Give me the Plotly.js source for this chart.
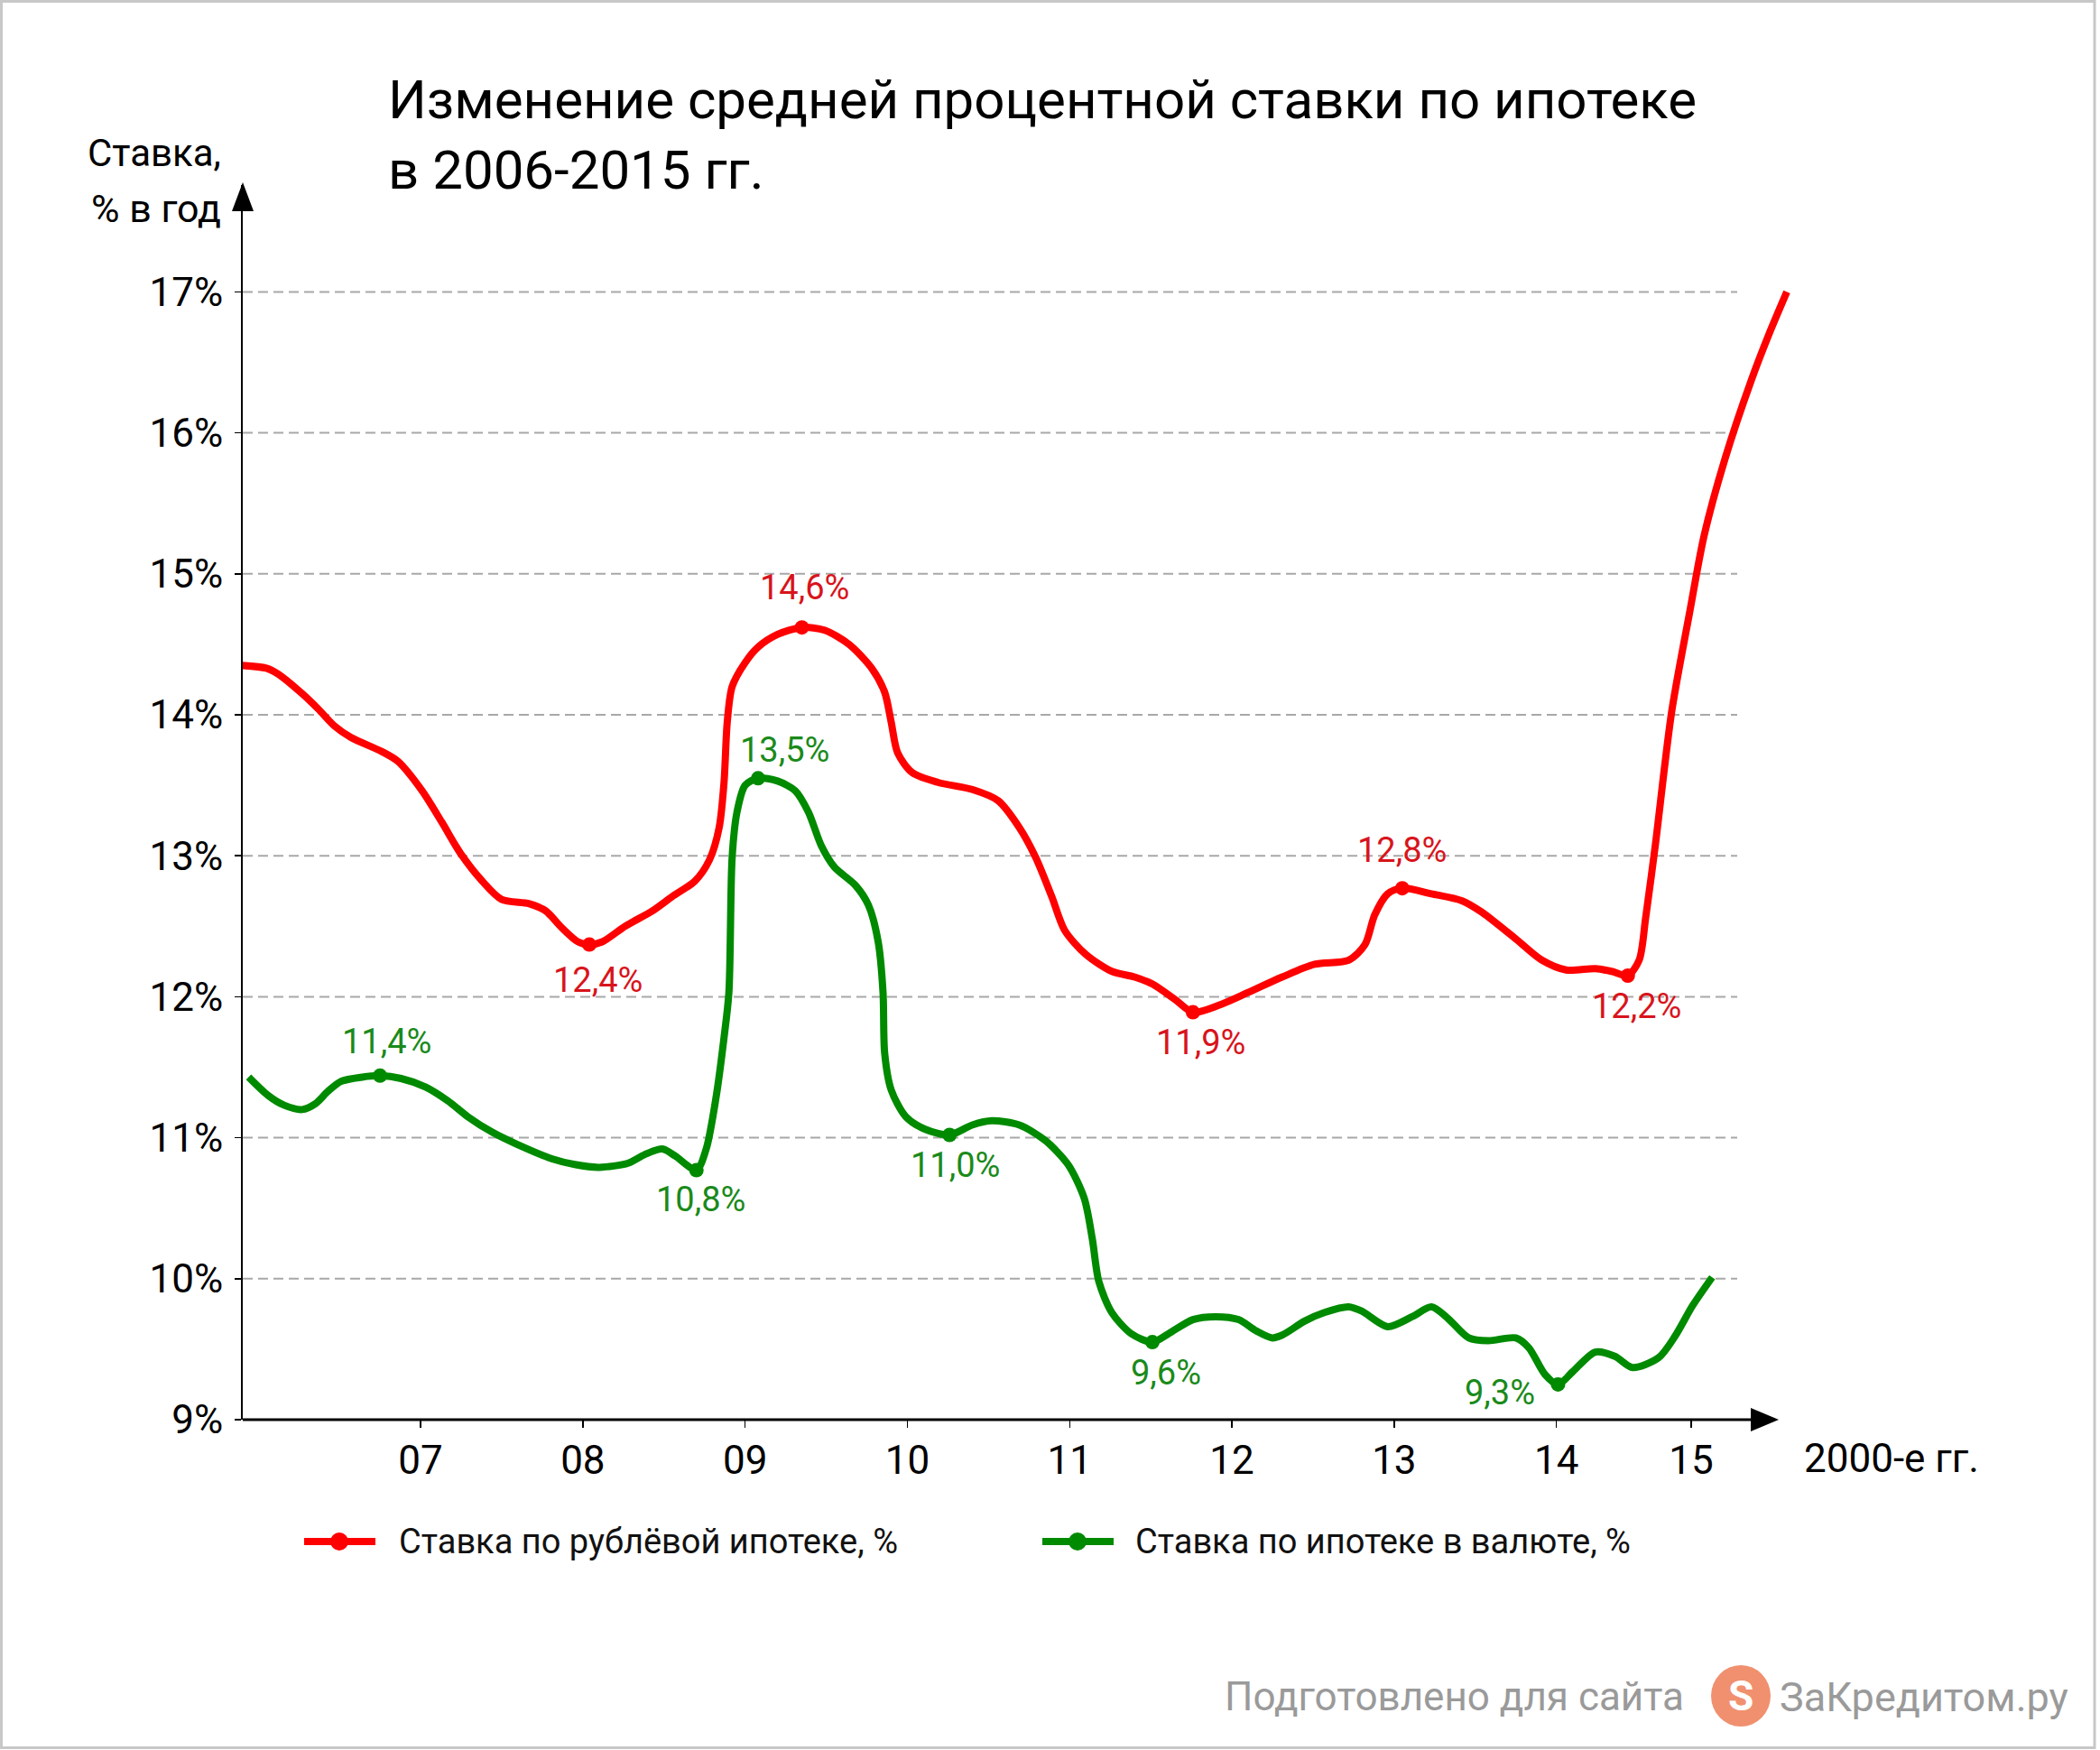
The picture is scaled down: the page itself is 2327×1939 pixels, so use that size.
<!DOCTYPE html>
<html>
<head>
<meta charset="utf-8">
<script src="https://cdn.plot.ly/plotly-3.0.1.min.js"></script>
<style>
html,body{margin:0;padding:0;background:#fff;}
#chart{width:2327px;height:1939px;}
</style>
</head>
<body>
<div id="chart"></div>
<script>
// ---------------- DATA ----------------
const titleText = 'Изменение средней процентной ставки по ипотеке<br>в 2006-2015 гг.';
const yAxisTitle1 = 'Ставка,';
const yAxisTitle2 = '% в год';
const xAxisTitle = '2000-е гг.';

const xTickPos = [2007, 2008, 2009, 2010, 2011, 2012, 2013, 2014, 2014.83];
const xTickLabels = ['07', '08', '09', '10', '11', '12', '13', '14', '15'];
const yTickVals = [9, 10, 11, 12, 13, 14, 15, 16, 17];
const yTickLabels = ['9%', '10%', '11%', '12%', '13%', '14%', '15%', '16%', '17%'];

const redName = 'Ставка по рублёвой ипотеке, %';
const redX = [2005.90, 2006.05, 2006.12, 2006.27, 2006.37, 2006.47, 2006.57, 2006.76, 2006.86,
  2007.01, 2007.13, 2007.25, 2007.38, 2007.50, 2007.67, 2007.77, 2007.87, 2007.97,
  2008.04, 2008.12, 2008.26, 2008.43, 2008.55, 2008.69, 2008.78, 2008.84, 2008.87, 2008.89, 2008.92,
  2009.00, 2009.08, 2009.20, 2009.35, 2009.49, 2009.64, 2009.78, 2009.86, 2009.90, 2009.94,
  2010.03, 2010.19, 2010.40, 2010.56, 2010.69, 2010.79, 2010.89, 2010.97,
  2011.10, 2011.26, 2011.40, 2011.51, 2011.65, 2011.76, 2011.92,
  2012.10, 2012.31, 2012.51, 2012.72, 2012.82, 2012.88, 2012.96,
  2013.05, 2013.23, 2013.42, 2013.54, 2013.75, 2013.91,
  2014.06, 2014.24, 2014.34, 2014.44, 2014.51, 2014.55, 2014.61, 2014.71, 2014.82, 2014.91,
  2015.04, 2015.20, 2015.31, 2015.42];
const redY = [14.35, 14.33, 14.29, 14.15, 14.04, 13.92, 13.84, 13.74, 13.67,
  13.46, 13.24, 13.01, 12.82, 12.69, 12.66, 12.61, 12.49, 12.39,
  12.37, 12.39, 12.50, 12.61, 12.71, 12.82, 12.97, 13.20, 13.52, 13.95, 14.20,
  14.37, 14.48, 14.57, 14.62, 14.60, 14.50, 14.33, 14.16, 13.95, 13.73,
  13.59, 13.52, 13.47, 13.39, 13.20, 12.99, 12.71, 12.47,
  12.30, 12.18, 12.14, 12.09, 11.98, 11.89, 11.94,
  12.03, 12.14, 12.23, 12.26, 12.37, 12.58, 12.73,
  12.77, 12.73, 12.68, 12.60, 12.41, 12.26,
  12.19, 12.20, 12.18, 12.15, 12.26, 12.56, 13.08, 14.02, 14.72, 15.27,
  15.82, 16.37, 16.70, 17.00];
const redLabelX = [2008.04, 2009.35, 2011.76, 2013.05, 2014.44];
const redLabelText = ['12,4%', '14,6%', '11,9%', '12,8%', '12,2%'];

const greenName = 'Ставка по ипотеке в валюте, %';
const greenX = [2005.94, 2006.06, 2006.16, 2006.27, 2006.35, 2006.43, 2006.51, 2006.64, 2006.75, 2006.88,
  2007.03, 2007.17, 2007.29, 2007.44, 2007.60, 2007.81, 2007.95,
  2008.10, 2008.28, 2008.38, 2008.49, 2008.57, 2008.70, 2008.76, 2008.82, 2008.87, 2008.90, 2008.92, 2008.95,
  2009.00, 2009.08, 2009.20, 2009.31, 2009.39, 2009.47, 2009.55, 2009.68, 2009.76, 2009.82, 2009.85, 2009.86, 2009.90, 2009.99,
  2010.11, 2010.26, 2010.40, 2010.52, 2010.69, 2010.85, 2010.99,
  2011.09, 2011.14, 2011.18, 2011.26, 2011.38, 2011.51, 2011.61, 2011.76, 2011.90,
  2012.04, 2012.15, 2012.25, 2012.31, 2012.45, 2012.57, 2012.72, 2012.80, 2012.96,
  2013.11, 2013.23, 2013.33, 2013.46, 2013.58, 2013.75, 2013.83, 2013.93,
  2014.01, 2014.10, 2014.24, 2014.36, 2014.47, 2014.63, 2014.73, 2014.84, 2014.96];
const greenY = [11.43, 11.30, 11.23, 11.20, 11.24, 11.33, 11.40, 11.43, 11.44, 11.42,
  11.36, 11.26, 11.15, 11.04, 10.95, 10.85, 10.81,
  10.79, 10.82, 10.88, 10.92, 10.87, 10.77, 10.92, 11.28, 11.71, 12.03, 12.99, 13.31,
  13.50, 13.55, 13.53, 13.46, 13.31, 13.07, 12.92, 12.79, 12.65, 12.39, 12.03, 11.60, 11.34, 11.15,
  11.06, 11.02, 11.09, 11.12, 11.09, 10.98, 10.81,
  10.57, 10.28, 9.98, 9.76, 9.61, 9.55, 9.61, 9.71, 9.73,
  9.71, 9.63, 9.58, 9.60, 9.70, 9.76, 9.80, 9.77, 9.66,
  9.73, 9.80, 9.72, 9.58, 9.56, 9.58, 9.51, 9.32,
  9.25, 9.34, 9.48, 9.45, 9.37, 9.44, 9.59, 9.81, 10.01];
const greenLabelX = [2006.75, 2008.70, 2009.08, 2010.26, 2011.51, 2014.01];
const greenLabelText = ['11,4%', '10,8%', '13,5%', '11,0%', '9,6%', '9,3%'];

const footerText = 'Подготовлено для сайта';
const brandText = 'ЗаКредитом.ру';

// ---------------- LAYOUT / STYLE ----------------
const W = 2327, H = 1939;
const ML = 269, MR = 332, MT = 205, MB = 366;
const PW = W - ML - MR, PH = H - MT - MB;
const PX_PER_YEAR = 179.8, PX_PER_PCT = 156.2;
const xStart = 2005.904;
const xRange = [xStart, xStart + PW / PX_PER_YEAR];
const yRange = [9, 9 + PH / PX_PER_PCT];
const P = x => (x - ML) / PW;            // pixel -> paper x
const Q = y => (H - MB - y) / PH;         // pixel -> paper y

const FONT = 'Roboto, "Noto Sans", "DejaVu Sans", sans-serif';
const RED = '#ff0000', RED_TXT = '#d8141c';
const GREEN = '#008a00', GREEN_TXT = '#1a8a1a';

const yOf = (xs, ys, x) => ys[xs.indexOf(x)];

const traces = [
  {x: redX, y: redY, type: 'scatter', mode: 'lines', name: redName,
   line: {color: RED, width: 8, shape: 'spline', smoothing: 0.8}},
  {x: greenX, y: greenY, type: 'scatter', mode: 'lines', name: greenName,
   line: {color: GREEN, width: 8, shape: 'spline', smoothing: 0.8}},
  {x: redLabelX, y: redLabelX.map(x => yOf(redX, redY, x)), type: 'scatter', mode: 'markers',
   marker: {color: RED, size: 16}, cliponaxis: false},
  {x: greenLabelX, y: greenLabelX.map(x => yOf(greenX, greenY, x)), type: 'scatter', mode: 'markers',
   marker: {color: GREEN, size: 16}, cliponaxis: false}
];

const redShift = [[9, -39], [3, 44], [9, -33], [0, 42], [10, -34]];
const greenShift = [[7, 38], [5, -32], [29, 31], [6, -34], [15, -34], [-64, -9]];

const annotations = [];
redLabelX.forEach((x, i) => annotations.push({
  x: x, y: yOf(redX, redY, x), xref: 'x', yref: 'y', text: redLabelText[i], showarrow: false,
  xanchor: 'center', yanchor: 'middle', xshift: redShift[i][0], yshift: redShift[i][1],
  font: {family: FONT, size: 38, color: RED_TXT}
}));
greenLabelX.forEach((x, i) => annotations.push({
  x: x, y: yOf(greenX, greenY, x), xref: 'x', yref: 'y', text: greenLabelText[i], showarrow: false,
  xanchor: 'center', yanchor: 'middle', xshift: greenShift[i][0], yshift: greenShift[i][1],
  font: {family: FONT, size: 38, color: GREEN_TXT}
}));
// axis titles
annotations.push({xref: 'paper', yref: 'paper', x: P(247), y: Q(170), xanchor: 'right', yanchor: 'middle',
  text: yAxisTitle1, showarrow: false, font: {family: FONT, size: 42, color: '#000'}});
annotations.push({xref: 'paper', yref: 'paper', x: P(247), y: Q(231), xanchor: 'right', yanchor: 'middle',
  text: yAxisTitle2, showarrow: false, font: {family: FONT, size: 43, color: '#000'}});
annotations.push({xref: 'paper', yref: 'paper', x: P(1997), y: Q(1616), xanchor: 'left', yanchor: 'middle',
  text: xAxisTitle, showarrow: false, font: {family: FONT, size: 44, color: '#000'}});
// legend texts
annotations.push({xref: 'paper', yref: 'paper', x: P(440), y: Q(1708), xanchor: 'left', yanchor: 'middle',
  text: redName, showarrow: false, font: {family: FONT, size: 38, color: '#111'}});
annotations.push({xref: 'paper', yref: 'paper', x: P(1256), y: Q(1708), xanchor: 'left', yanchor: 'middle',
  text: greenName, showarrow: false, font: {family: FONT, size: 38, color: '#111'}});
// footer
annotations.push({xref: 'paper', yref: 'paper', x: P(1868), y: Q(1880), xanchor: 'right', yanchor: 'middle',
  text: footerText, showarrow: false, font: {family: FONT, size: 44, color: '#9a9a9a'}});
annotations.push({xref: 'paper', yref: 'paper', x: P(1970), y: Q(1880), xanchor: 'left', yanchor: 'middle',
  text: brandText, showarrow: false, font: {family: FONT, size: 45, color: '#9a9a9a'}});
annotations.push({xref: 'paper', yref: 'paper', x: P(1929), y: Q(1879), xanchor: 'center', yanchor: 'middle',
  text: '<b>S</b>', showarrow: false, font: {family: FONT, size: 46, color: '#ffffff'}});

const shapes = [];
// dashed gridlines
yTickVals.filter(v => v > 9).forEach(v => shapes.push({
  type: 'line', xref: 'paper', yref: 'y', x0: 0, x1: P(1925), y0: v, y1: v, layer: 'below',
  line: {color: '#a8a8a8', width: 2, dash: '11px,6px'}
}));
// x axis line + arrow
shapes.push({type: 'line', xref: 'paper', yref: 'paper', x0: 0, x1: P(1942), y0: 0, y1: 0,
  line: {color: '#000', width: 3}});
shapes.push({type: 'path', xref: 'paper', yref: 'paper', xsizemode: 'pixel', ysizemode: 'pixel',
  xanchor: P(1940), yanchor: 0, path: 'M0,-13 L0,13 L31,0 Z', fillcolor: '#000', line: {width: 0}});
// y axis arrow
shapes.push({type: 'path', xref: 'paper', yref: 'paper', xsizemode: 'pixel', ysizemode: 'pixel',
  xanchor: 0, yanchor: Q(234), path: 'M-12,0 L12,0 L0,32 Z', fillcolor: '#000', line: {width: 0}});
// legend symbols
[[337, 416, 376, RED], [1155, 1234, 1194, GREEN]].forEach(([a, b, c, col]) => {
  shapes.push({type: 'line', xref: 'paper', yref: 'paper', x0: P(a), x1: P(b), y0: Q(1708), y1: Q(1708),
    line: {color: col, width: 8}});
  shapes.push({type: 'circle', xref: 'paper', yref: 'paper', xsizemode: 'pixel', ysizemode: 'pixel',
    xanchor: P(c), yanchor: Q(1708), x0: -10, x1: 10, y0: -10, y1: 10, fillcolor: col, line: {width: 0}});
});
// logo circle
shapes.push({type: 'circle', xref: 'paper', yref: 'paper', xsizemode: 'pixel', ysizemode: 'pixel',
  xanchor: P(1929), yanchor: Q(1879), x0: -33, x1: 33, y0: -34, y1: 34, fillcolor: '#f0906f', line: {width: 0}});
// outer border
shapes.push({type: 'rect', xref: 'paper', yref: 'paper', x0: P(1.5), x1: P(2321), y0: Q(1.5), y1: Q(1936.5),
  line: {color: '#c8c8c8', width: 3}, fillcolor: 'rgba(0,0,0,0)'});

const layout = {
  width: W, height: H,
  margin: {l: ML, r: MR, t: MT, b: MB, pad: 0},
  paper_bgcolor: '#ffffff', plot_bgcolor: '#ffffff',
  showlegend: false, hovermode: false,
  font: {family: FONT, color: '#000'},
  title: {
    text: titleText, xref: 'container', yref: 'container', x: 430 / W, xanchor: 'left',
    y: 1 - 131 / H, yanchor: 'top',
    font: {family: FONT, size: 60, color: '#000'}
  },
  xaxis: {
    range: xRange, showgrid: false, zeroline: false, showline: false,
    tickmode: 'array', tickvals: xTickPos, ticktext: xTickLabels,
    ticks: 'outside', ticklen: 8, tickwidth: 1.5, tickcolor: '#000',
    ticklabelstandoff: -2,
    tickfont: {family: FONT, size: 44, color: '#000'}
  },
  yaxis: {
    range: yRange, showgrid: false, zeroline: false, showline: true, linecolor: '#000', linewidth: 2,
    tickmode: 'array', tickvals: yTickVals, ticktext: yTickLabels,
    ticks: 'outside', ticklen: 7, tickwidth: 1.5, tickcolor: '#000',
    ticklabelstandoff: 4,
    tickfont: {family: FONT, size: 44, color: '#000'}
  },
  shapes: shapes,
  annotations: annotations
};

Plotly.newPlot('chart', traces, layout, {staticPlot: true, displayModeBar: false});
</script>
</body>
</html>
